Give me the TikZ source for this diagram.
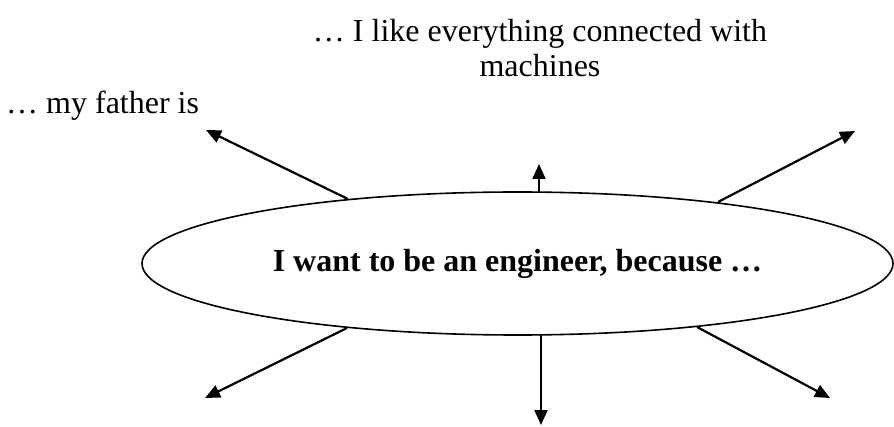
\documentclass[tikz,border=0pt]{standalone}
\usepackage{fontspec}
\setmainfont{Liberation Serif}
\usetikzlibrary{shapes.geometric,arrows.meta}
\begin{document}
\begin{tikzpicture}[x=1pt,y=-1pt,
  lbl/.style={inner sep=0pt,font=\fontsize{32}{35}\selectfont},
  hub/.style={draw,line width=1.6pt,ellipse,inner sep=0pt,minimum width=751pt,minimum height=143pt,font=\fontsize{32}{35}\selectfont\bfseries},
  ray/.style={line width=2.2pt,-{Triangle[length=15pt,width=13pt]}}]
\useasboundingbox (0,0) rectangle (894,427);
\node[hub] (e) at (517.5,263.5) {I want to be an engineer, because …};
\node[lbl,align=center,anchor=north] (top) at (540,19) {… I like everything connected with\\machines};
\node[lbl,anchor=base west] (fa) at (6,114) {… my father is};
% start points on the ellipse
\coordinate (s1) at (348,199);
\coordinate (s2) at (539,192);
\coordinate (s3) at (718,202);
\coordinate (s4) at (347,328);
\coordinate (s5) at (541,335);
\coordinate (s6) at (697,327);
% arrow tips
\coordinate (t1) at (206,130);
\coordinate (t2) at (539,164);
\coordinate (t3) at (855,131);
\coordinate (t4) at (205,398);
\coordinate (t5) at (541,425);
\coordinate (t6) at (830,398);
\foreach \i in {1,...,6} \draw[ray] (s\i) -- (t\i);
\end{tikzpicture}
\end{document}
